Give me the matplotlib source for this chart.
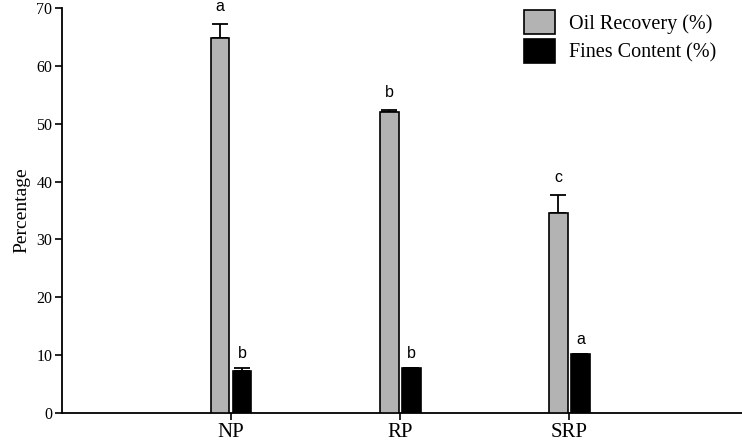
import matplotlib
matplotlib.use("Agg")
import matplotlib.pyplot as plt
import numpy as np

categories = ["NP", "RP", "SRP"]
oil_recovery = [64.8, 52.0, 34.6]
oil_err = [2.4, 0.4, 3.1]
fines_content = [7.2, 7.8, 10.2]
fines_err = [0.6, 0.0, 0.0]
oil_letters = ["a", "b", "c"]
fines_letters = ["b", "b", "a"]

W, H = 742, 443
fig = plt.figure(figsize=(W / 100, H / 100), dpi=100)
ax = fig.add_axes([62 / W, 1 - 413 / H, 1 - 62 / W, (413 - 8) / H])

x = np.arange(1, len(categories) + 1)
bw = 0.11
off = 0.065
serif = ["Liberation Serif", "DejaVu Serif"]

ax.bar(x - off, oil_recovery, bw, color="#b3b3b3", edgecolor="black", linewidth=1.2,
       label="Oil Recovery (%)", zorder=3)
ax.bar(x + off, fines_content, bw, color="black", edgecolor="black", linewidth=1.2,
       label="Fines Content (%)", zorder=3)
ax.errorbar(x - off, oil_recovery, yerr=[np.zeros(3), oil_err], fmt="none",
            ecolor="black", elinewidth=1.3, capsize=6, capthick=1.3, zorder=2)
ax.errorbar(x + off, fines_content, yerr=[np.zeros(3), fines_err], fmt="none",
            ecolor="black", elinewidth=1.3, capsize=6, capthick=1.3, zorder=2)

for xi, v, e, t in zip(x - off, oil_recovery, oil_err, oil_letters):
    ax.annotate(t, (xi, v + e), xytext=(0, 7), textcoords="offset points",
                ha="center", va="bottom", fontsize=11.5, family=["Liberation Sans"])
for xi, v, e, t in zip(x + off, fines_content, fines_err, fines_letters):
    ax.annotate(t, (xi, v + e), xytext=(0, 5), textcoords="offset points",
                ha="center", va="bottom", fontsize=11.5, family=["Liberation Sans"])

ax.set_xlim(0, 4.02)
ax.set_ylim(0, 70)
ax.set_yticks(range(0, 71, 10))
ax.set_xticks(x)
ax.set_xticklabels(categories, fontsize=15, family=serif)
for lab in ax.get_yticklabels():
    lab.set_family(serif)
    lab.set_fontsize(11.5)
ax.tick_params(axis="y", direction="out", length=5, width=1.2, pad=2)
ax.tick_params(axis="x", direction="out", length=5, width=1.2, pad=2)
ax.spines["top"].set_visible(False)
ax.spines["right"].set_visible(False)
ax.spines["left"].set_linewidth(1.3)
ax.spines["bottom"].set_linewidth(1.3)
ax.set_ylabel("Percentage", fontsize=14, family=serif, labelpad=4)

leg = fig.legend(*ax.get_legend_handles_labels(), loc="upper right",
                 bbox_to_anchor=(716 / W, 1 - 10 / H), frameon=False,
                 prop={"family": serif, "size": 14.5}, handlelength=1.5, handleheight=1.45,
                 handletextpad=0.7, labelspacing=0.25, borderpad=0, borderaxespad=0)

fig.savefig("out.png", dpi=100)
